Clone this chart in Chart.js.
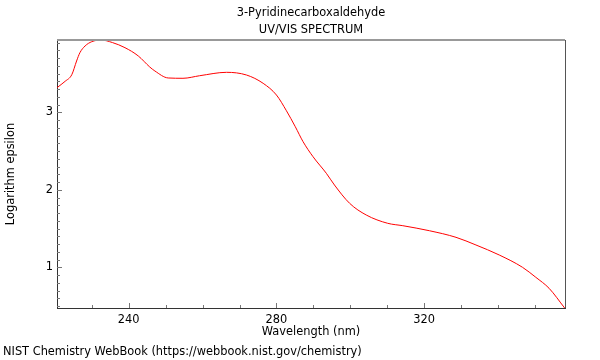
<!DOCTYPE html>
<html>
<head>
<meta charset="utf-8">
<script src="https://cdn.jsdelivr.net/npm/chart.js@4/dist/chart.umd.min.js"></script>
<style>
  body { margin: 0; background: #fff; }
  #wrap { width: 600px; height: 360px; }
</style>
</head>
<body>
<div id="wrap"><canvas id="spectrum" width="600" height="360"></canvas></div>
<script>
// values
const wavelength = [220.6, 222.8, 224.6, 225.9, 226.8, 228.2, 230.0, 232.5, 235.6, 239.0, 242.6, 245.7, 247.1, 250.7, 254.7, 259.2, 266.5, 271.9, 276.4, 280.0, 282.7, 285.1, 287.2, 289.9, 293.5, 295.7, 299.8, 304.3, 310.1, 314.2, 321.4, 328.6, 334.0, 340.3, 346.6, 350.2, 353.8, 358.0];
const logEpsilon = [3.318, 3.400, 3.485, 3.662, 3.769, 3.856, 3.911, 3.933, 3.900, 3.834, 3.727, 3.585, 3.533, 3.443, 3.439, 3.472, 3.516, 3.481, 3.374, 3.223, 3.020, 2.814, 2.621, 2.427, 2.213, 2.062, 1.826, 1.675, 1.568, 1.537, 1.472, 1.387, 1.288, 1.159, 1.000, 0.871, 0.729, 0.475];
const xTicks = [240, 280, 320];
const yTicks = [1, 2, 3];
const xMinorStep = 10;
const yMinorStep = 0.1;
const titleLines = ['3-Pyridinecarboxaldehyde', 'UV/VIS SPECTRUM'];
const creditText = 'NIST Chemistry WebBook (https://webbook.nist.gov/chemistry)';

Chart.defaults.font.family = 'DejaVu Sans';
Chart.defaults.font.size = 11.4;
Chart.defaults.color = '#000';

const points = wavelength.map((w, i) => ({ x: w, y: logEpsilon[i] }));

// inward tick marks, top/right frame, titles and credit line
const decorations = {
    id: 'decorations',
    afterDraw(chart) {
        const ctx = chart.ctx;
        const area = chart.chartArea;
        const xs = chart.scales.x;
        const ys = chart.scales.y;
        ctx.save();

        ctx.strokeStyle = '#999';
        ctx.lineWidth = 2;
        ctx.beginPath();
        ctx.moveTo(area.left, area.top);
        ctx.lineTo(area.right, area.top);
        ctx.stroke();

        ctx.strokeStyle = '#555';
        ctx.lineWidth = 1;
        ctx.beginPath();
        ctx.moveTo(area.right + 0.5, area.top);
        ctx.lineTo(area.right + 0.5, area.bottom);
        ctx.stroke();

        ctx.strokeStyle = '#777';
        ctx.lineWidth = 1;
        ctx.beginPath();
        for (let v = Math.ceil(xs.min / xMinorStep) * xMinorStep; v <= xs.max; v += xMinorStep) {
            const px = Math.round(xs.getPixelForValue(v)) + 0.5;
            const len = xTicks.includes(v) ? 5 : 3;
            ctx.moveTo(px, area.bottom);
            ctx.lineTo(px, area.bottom - len);
        }
        const start = Math.ceil(ys.min / yMinorStep);
        for (let k = start; k * yMinorStep <= ys.max; k++) {
            const v = k * yMinorStep;
            const py = Math.round(ys.getPixelForValue(v)) + 0.5;
            const len = (k % 10 === 0) ? 5 : 3;
            ctx.moveTo(area.left, py);
            ctx.lineTo(area.left + len, py);
        }
        ctx.stroke();

        ctx.fillStyle = '#000';
        ctx.font = '11.4px "DejaVu Sans"';
        ctx.textAlign = 'center';
        ctx.textBaseline = 'middle';
        const cx = (area.left + area.right) / 2;
        ctx.fillText(titleLines[0], cx, 13);
        ctx.fillText(titleLines[1], cx, 30);

        ctx.textAlign = 'left';
        ctx.fillText(creditText, 3, 352);
        ctx.restore();
    }
};

new Chart(document.getElementById('spectrum'), {
    type: 'line',
    data: {
        datasets: [{
            data: points,
            borderColor: '#ff0000',
            borderWidth: 1,
            pointRadius: 0,
            cubicInterpolationMode: 'monotone',
            fill: false
        }]
    },
    options: {
        responsive: false,
        animation: false,
        layout: { padding: { top: 40, right: 35, bottom: 0, left: 0 } },
        plugins: {
            legend: { display: false },
            tooltip: { enabled: false }
        },
        scales: {
            x: {
                type: 'linear',
                min: 220.6,
                max: 358.1,
                grid: { display: false, drawTicks: false },
                border: { display: true, color: '#333', width: 1 },
                afterBuildTicks: s => { s.ticks = xTicks.map(v => ({ value: v })); },
                afterFit: s => { s.height = 52; },
                ticks: { padding: 5, maxRotation: 0 },
                title: { display: true, text: 'Wavelength (nm)', padding: { top: 0, bottom: 21 } }
            },
            y: {
                type: 'linear',
                min: 0.475,
                max: 3.933,
                grid: { display: false, drawTicks: false },
                border: { display: true, color: '#333', width: 1 },
                afterBuildTicks: s => { s.ticks = yTicks.map(v => ({ value: v })); },
                afterFit: s => { s.width = 57; },
                ticks: { padding: 4 },
                title: { display: true, text: 'Logarithm epsilon', padding: { top: 4, bottom: 0 } }
            }
        }
    },
    plugins: [decorations]
});
</script>
</body>
</html>
